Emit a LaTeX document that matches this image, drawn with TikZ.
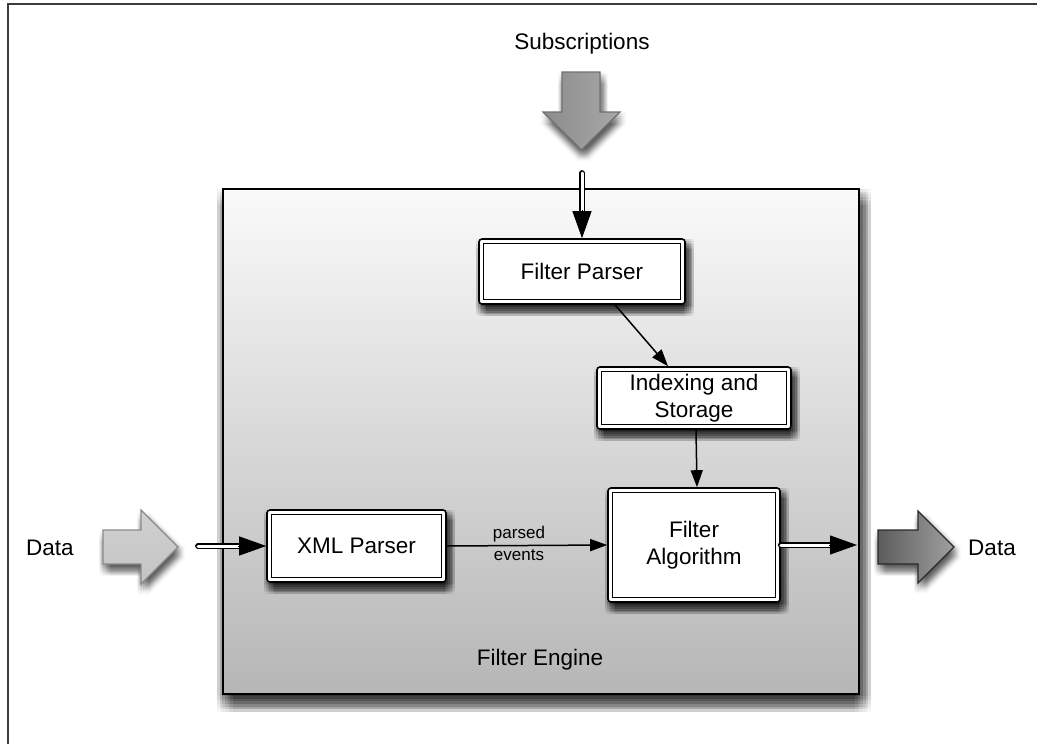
\documentclass[tikz,border=0pt]{standalone}
\usepackage{fontspec}
\setmainfont{Liberation Sans}
\usetikzlibrary{arrows.meta,calc}

\definecolor{engtop}{HTML}{FAFAFA}
\definecolor{engbot}{HTML}{B6B6B6}
\definecolor{subL}{HTML}{8C8C8C}
\definecolor{subR}{HTML}{A8A8A8}
\definecolor{subEdge}{HTML}{707070}
\definecolor{inTop}{HTML}{D0D0D0}
\definecolor{inBot}{HTML}{C4C4C4}
\definecolor{inEdge}{HTML}{8A8A8A}
\definecolor{outL}{HTML}{5C5C5C}
\definecolor{outR}{HTML}{A0A0A0}
\definecolor{outEdge}{HTML}{2A2A2A}
\definecolor{frameline}{HTML}{3C3C3C}

\newcommand{\mainsize}{\fontsize{22.5}{27}\selectfont}
\newcommand{\smallsize}{\fontsize{17}{20}\selectfont}

\pgfdeclarelayer{under}
\pgfdeclarelayer{base}
\pgfdeclarelayer{mid}
\pgfsetlayers{under,base,mid,main}

\tikzset{
  engine/.style={draw=black, line width=2pt, top color=engtop, bottom color=engbot},
  stage/.style={draw=black, line width=1.6pt, rounded corners=3pt, fill=white,
    align=center, inner sep=0pt, font=\mainsize},
  inset/.style={draw=black, line width=1.3pt},
  flow/.style={line width=1.5pt, -{Triangle[length=17pt,width=12pt,fill=black]}},
  shaft/.style={line width=1.4pt, double=white, double distance=3pt, line cap=round, shorten >=20pt},
  tiphead/.style={line width=1pt, draw=black, -{Triangle[length=27pt,width=19pt,fill=black]}},
  bigarrow/.style={line width=1.3pt, line join=miter},
  caption/.style={font=\mainsize, inner sep=0pt},
  edgelabel/.style={font=\smallsize, inner sep=0pt},
}

% soft drop shadow: the shape stamped on a 7x7 grid of small offsets
\newcommand{\softshadow}[5]{%
  \foreach \i in {-3,...,3}{\foreach \j in {-3,...,3}{%
    \fill[black, fill opacity=#5,
      transform canvas={shift={({#2+\i*#4},{#3+\j*#4})}}] #1;}}}

% white-bodied connector ending in a solid black head
\newcommand{\hollowlink}[2]{%
  \draw[shaft] (#1) -- (#2);
  \draw[tiphead] ($(#2)!28pt!(#1)$) -- (#2);}

% outlines of the three block arrows
\newcommand{\subshape}{(562,72) -- (600,72) -- (600,112) -- (620,112) -- (581.5,150)
    -- (543,112) -- (562,112) -- cycle}
\newcommand{\inshape}{(103,530) -- (141,530) -- (141,510) -- (178,547) -- (141,584)
    -- (141,564) -- (103,564) -- cycle}
\newcommand{\outshape}{(878,530) -- (918,530) -- (918,511) -- (954,547) -- (918,583)
    -- (918,564) -- (878,564) -- cycle}

\begin{document}
\begin{tikzpicture}[x=1pt,y=-1pt]
  \useasboundingbox (0,0) rectangle (1037,744);
  \begin{pgfonlayer}{under}
    \fill[white] (0,0) rectangle (1037,744);
  \end{pgfonlayer}

  \begin{pgfonlayer}{base}
    \draw[frameline, line width=1.5pt] (8,744) -- (8,4) -- (1037,4);
    % block arrows
    \draw[bigarrow, draw=subEdge, left color=subL, right color=subR] \subshape;
    \draw[bigarrow, draw=inEdge, top color=inTop, bottom color=inBot] \inshape;
    \draw[bigarrow, draw=outEdge, left color=outL, right color=outR] \outshape;
    % the engine
    \node[engine, minimum width=636pt, minimum height=505pt] (engine) at (541,441.5) {};
  \end{pgfonlayer}

  \begin{pgfonlayer}{under}
    \softshadow{\subshape}{2}{6}{1.8}{0.02}
    \softshadow{\inshape}{2}{6}{1.8}{0.02}
    \softshadow{\outshape}{2}{6}{1.8}{0.02}
    \softshadow{(engine.north west) rectangle (engine.south east)}{3}{9}{2.7}{0.028}
  \end{pgfonlayer}

  \node[caption] (subtitle) at (582,44) {Subscriptions};
  \node[caption] (datainlabel) at (50,548) {Data};
  \node[caption] (dataoutlabel) at (992,548) {Data};
  \node[caption] (enginelabel) at (540,660) {Filter Engine};

  % processing stages
  \node[stage, minimum width=206pt, minimum height=65pt] (fp) at (582,271.5) {Filter Parser};
  \node[stage, minimum width=194pt, minimum height=62pt] (is) at (694,398) {Indexing and\\Storage};
  \node[stage, minimum width=179pt, minimum height=72pt] (xp) at (356.5,546) {XML Parser};
  \node[stage, minimum width=172pt, minimum height=114pt] (fa) at (694,545) {Filter\\Algorithm};
  \foreach \n in {fp,is,xp,fa}{
    \draw[inset] ([xshift=5pt,yshift=-5pt]\n.north west) rectangle ([xshift=-5pt,yshift=5pt]\n.south east);
  }

  \begin{pgfonlayer}{mid}
    \foreach \n in {fp,is,xp,fa}{
      \softshadow{(\n.north west) rectangle (\n.south east)}{3}{6}{1.7}{0.032}
    }
  \end{pgfonlayer}

  % internal flow
  \draw[flow] ([xshift=33pt]fp.south) -- ([xshift=-26pt]is.north);
  \draw[flow] ([xshift=2pt]is.south) -- ([xshift=3pt]fa.north);
  \draw[flow] (xp.east) -- (fa.west)
    node[edgelabel, pos=0.45, yshift=11pt] (lblparsed) {parsed}
    node[edgelabel, pos=0.45, yshift=-10pt] (lblevents) {events};

  % boundary connectors
  \coordinate (subin) at (582,173);
  \coordinate (datain) at (198,546);
  \coordinate (dataout) at (857,545);
  \hollowlink{subin}{fp.north}
  \hollowlink{datain}{xp.west}
  \hollowlink{fa.east}{dataout}
\end{tikzpicture}
\end{document}
